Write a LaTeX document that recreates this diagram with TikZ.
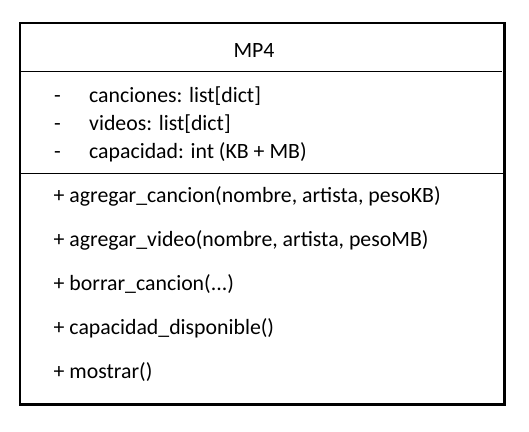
\documentclass[tikz,border=0pt]{standalone}
\usepackage{fontspec}
\setmainfont{Carlito}
\newcommand{\umlfont}{\fontsize{21.8}{26}\selectfont}
\begin{document}
\begin{tikzpicture}[x=1pt,y=-1pt,
  thinrule/.style={line width=1.1pt},
  thickrule/.style={line width=2.4pt},
  member/.style={anchor=base west, inner sep=0pt, font=\umlfont},
  title/.style={anchor=base, inner sep=0pt, font=\umlfont}]
  \useasboundingbox (0,0) rectangle (529,431);

  % class frame
  \draw[thinrule] (19,23) -- (505.7,23);
  \draw[thickrule, line cap=rect] (20.2,23) -- (20.2,404.5) -- (504.5,404.5) -- (504.5,23);

  % compartment separators
  \draw[thinrule] (20.2,71.5) -- (501.7,71.5);
  \draw[thinrule] (20.2,173.5) -- (504.5,173.5);

  % class name
  \node[title] (name) at (254,57.8) {MP4};

  % attributes
  \node[member] (d1) at (54,102.3) {-};
  \node[member] (d2) at (54,130.7) {-};
  \node[member] (d3) at (54,158.8) {-};
  \node[member] (a1) at (89,102.3) {canciones: list[dict]};
  \node[member] (a2) at (89,130.7) {videos: list[dict]};
  \node[member] (a3) at (89,158.8) {capacidad: int (KB + MB)};

  % operations
  \node[member] (m1) at (53.5,202.5) {+ agregar\_cancion(nombre, artista, pesoKB)};
  \node[member] (m2) at (53.5,246.5) {+ agregar\_video(nombre, artista, pesoMB)};
  \node[member] (m3) at (53.5,290.5) {+ borrar\_cancion(...)};
  \node[member] (m4) at (53.5,334.5) {+ capacidad\_disponible()};
  \node[member] (m5) at (53.5,378.5) {+ mostrar()};
\end{tikzpicture}
\end{document}
